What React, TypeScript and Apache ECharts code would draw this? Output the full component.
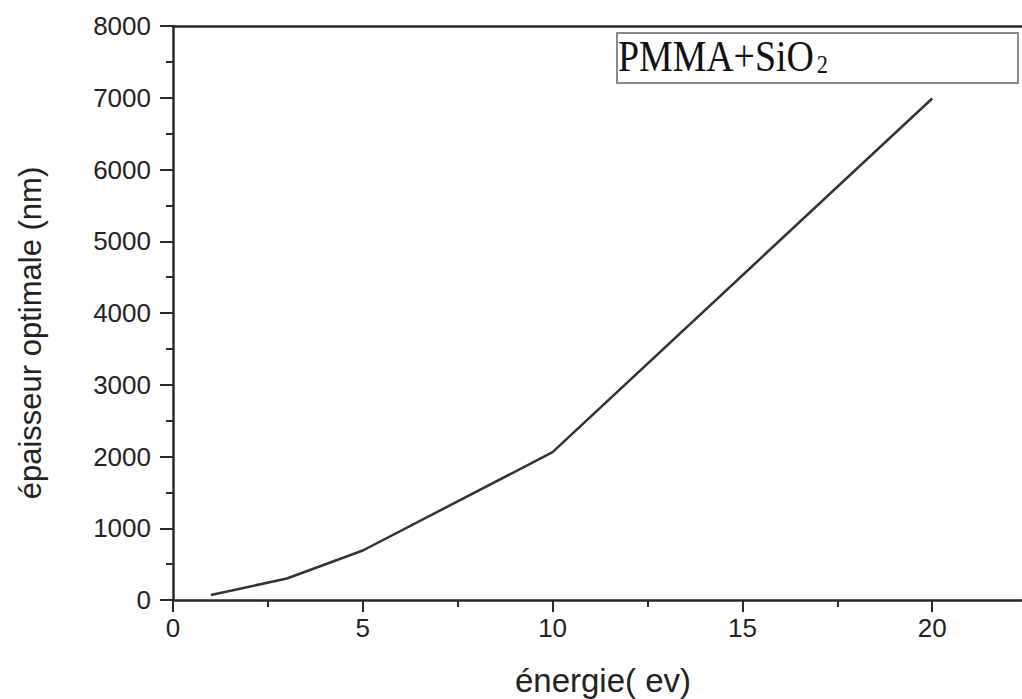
import React, { useEffect, useRef } from "react";
import * as echarts from "echarts";

const energy = [1, 3, 5, 10, 20];
const thickness = [70, 300, 690, 2060, 6990];
const xTicks = [0, 5, 10, 15, 20];
const yTicks = [0, 1000, 2000, 3000, 4000, 5000, 6000, 7000, 8000];
const xTitle = "énergie( ev)";
const yTitle = "épaisseur optimale (nm)";
const legendMain = "PMMA+SiO";
const legendSub = "2";

export default function App() {
  const ref = useRef<HTMLDivElement>(null);
  useEffect(() => {
    if (!ref.current) return;
    const chart = echarts.init(ref.current, null, { renderer: "svg" });
    const axisColor = "#2a2a2a";
    const labelFont = "Liberation Sans";
    chart.setOption({
      animation: false,
      backgroundColor: "#ffffff",
      grid: { left: 173, right: 0, top: 26, bottom: 99, containLabel: false },
      xAxis: [
        {
          type: "value",
          min: 0,
          max: 25,
          interval: 5,
          position: "bottom",
          axisLine: { show: true, onZero: false, lineStyle: { color: axisColor, width: 2.5 } },
          axisTick: { show: true, inside: false, length: 12, lineStyle: { color: axisColor, width: 2 } },
          minorTick: { show: true, splitNumber: 2, length: 7, lineStyle: { color: axisColor, width: 2 } },
          splitLine: { show: false },
          axisLabel: {
            margin: 15,
            color: "#222",
            fontFamily: labelFont,
            fontSize: 26,
            formatter: (v: number) => (xTicks.includes(v) ? String(v) : ""),
          },
        },
        {
          type: "value",
          min: 0,
          max: 25,
          position: "top",
          axisLine: { show: true, onZero: false, lineStyle: { color: axisColor, width: 2.5 } },
          axisTick: { show: false },
          axisLabel: { show: false },
          splitLine: { show: false },
        },
      ],
      yAxis: {
        type: "value",
        min: 0,
        max: 8000,
        interval: 1000,
        axisLine: { show: true, onZero: false, lineStyle: { color: axisColor, width: 2.5 } },
        axisTick: { show: true, inside: false, length: 13, lineStyle: { color: axisColor, width: 2 } },
        minorTick: { show: true, splitNumber: 2, length: 7, lineStyle: { color: axisColor, width: 2 } },
        splitLine: { show: false },
        axisLabel: {
          margin: 22,
          color: "#222",
          fontFamily: labelFont,
          fontSize: 26,
          formatter: (v: number) => (yTicks.includes(v) ? String(v) : ""),
        },
      },
      series: [
        {
          type: "line",
          xAxisIndex: 0,
          data: energy.map((e, i) => [e, thickness[i]]),
          showSymbol: false,
          symbol: "none",
          lineStyle: { color: "#333", width: 2.5 },
        },
      ],
      graphic: [
        {
          type: "text",
          x: 30,
          y: 333,
          rotation: Math.PI / 2,
          style: {
            text: yTitle,
            fontFamily: labelFont,
            fontSize: 31,
            fill: "#222",
            textAlign: "center",
            textVerticalAlign: "middle",
          },
        },
        {
          type: "text",
          x: 603,
          y: 680,
          style: {
            text: xTitle,
            fontFamily: labelFont,
            fontSize: 33,
            fill: "#222",
            textAlign: "center",
            textVerticalAlign: "middle",
          },
        },
        {
          type: "rect",
          shape: { x: 617, y: 33, width: 401, height: 50 },
          style: { fill: "#ffffff", stroke: "#8a8a8a", lineWidth: 2 },
        },
        {
          type: "group",
          x: 618,
          y: 56,
          scaleX: 0.86,
          children: [
            {
              type: "text",
              x: 0,
              y: 0,
              style: {
                text: legendMain,
                fontFamily: "Liberation Serif",
                fontSize: 44,
                fill: "#111",
                textAlign: "left",
                textVerticalAlign: "middle",
              },
            },
            {
              type: "text",
              x: 231,
              y: 8,
              style: {
                text: legendSub,
                fontFamily: "Liberation Serif",
                fontSize: 26,
                fill: "#111",
                textAlign: "left",
                textVerticalAlign: "middle",
              },
            },
          ],
        },
      ],
    });
    return () => chart.dispose();
  }, []);
  return (
    <div
      ref={ref}
      style={{ position: "fixed", left: 0, top: 0, width: 1125, height: 699 }}
    />
  );
}
